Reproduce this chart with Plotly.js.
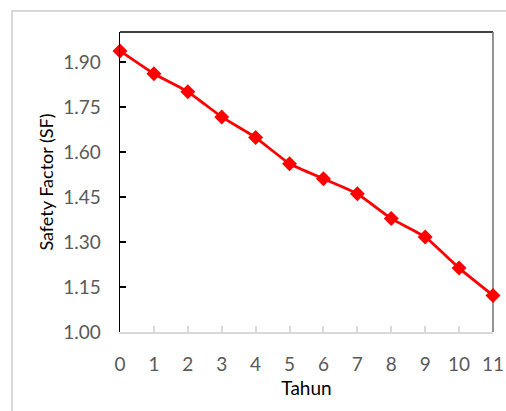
<!DOCTYPE html>
<html>
<head>
<meta charset="utf-8">
<script src="https://cdn.plot.ly/plotly-3.0.1.min.js"></script>
<style>
html,body{margin:0;padding:0;background:#fff;}
#chart{width:506px;height:411px;}
</style>
</head>
<body>
<div id="chart"></div>
<script>
const tahun = [0, 1, 2, 3, 4, 5, 6, 7, 8, 9, 10, 11];
const safetyFactor = [1.937, 1.861, 1.801, 1.717, 1.648, 1.561, 1.511, 1.461, 1.378, 1.317, 1.213, 1.122];
const yTicks = [1.00, 1.15, 1.30, 1.45, 1.60, 1.75, 1.90];
const yTickLabels = ["1.00", "1.15", "1.30", "1.45", "1.60", "1.75", "1.90"];
const xTitle = "Tahun";
const yTitle = "Safety Factor (SF)";

const trace = {
  x: tahun,
  y: safetyFactor,
  type: "scatter",
  mode: "lines+markers",
  line: {color: "#ff0000", width: 2.8, shape: "spline", smoothing: 0.4},
  marker: {symbol: "diamond", size: 11.5, color: "#ff0000"},
  cliponaxis: false,
  hoverinfo: "skip"
};

const layout = {
  width: 506,
  height: 411,
  margin: {l: 120, r: 13, t: 32, b: 79},
  paper_bgcolor: "#ffffff",
  plot_bgcolor: "#ffffff",
  showlegend: false,
  font: {family: "Lato, 'Open Sans', sans-serif", size: 19, color: "#595959"},
  xaxis: {
    range: [0, 11],
    tickmode: "array",
    tickvals: tahun,
    ticktext: tahun.map(String),
    showgrid: false,
    zeroline: false,
    showline: true,
    linecolor: "#d9d9d9",
    linewidth: 2,
    ticks: "inside",
    ticklen: 6,
    tickwidth: 2,
    tickcolor: "#d9d9d9",
    ticklabelstandoff: 14,
    tickfont: {family: "Lato, sans-serif", size: 19, color: "#595959"},
    title: {text: xTitle, font: {family: "Lato, sans-serif", size: 19, color: "#000000"}, standoff: 8},
    fixedrange: true
  },
  yaxis: {
    range: [1.0, 2.0],
    tickmode: "array",
    tickvals: yTicks,
    ticktext: yTickLabels,
    showgrid: false,
    zeroline: false,
    showline: true,
    linecolor: "#000000",
    linewidth: 1.5,
    ticks: "inside",
    ticklen: 6,
    tickwidth: 1.5,
    tickcolor: "#000000",
    ticklabelstandoff: 14,
    tickfont: {family: "Lato, sans-serif", size: 19, color: "#595959"},
    title: {text: yTitle, font: {family: "Lato, sans-serif", size: 18, color: "#000000"}, standoff: 5},
    fixedrange: true
  },
  shapes: [
    {type: "rect", xref: "paper", yref: "paper", x0: -0.2895, x1: 1.5, y0: -0.6, y1: 1.07,
     line: {color: "#d9d9d9", width: 2}, fillcolor: "rgba(0,0,0,0)", layer: "below"},
    {type: "line", xref: "paper", yref: "paper", x0: 0, x1: 1, y0: 1, y1: 1,
     line: {color: "#000000", width: 1.5}, layer: "below"},
    {type: "line", xref: "paper", yref: "paper", x0: 1, x1: 1, y0: 0, y1: 1,
     line: {color: "#707070", width: 1.5}, layer: "below"}
  ],
  hovermode: false
};

Plotly.newPlot("chart", [trace], layout, {staticPlot: true, displayModeBar: false});
</script>
</body>
</html>
